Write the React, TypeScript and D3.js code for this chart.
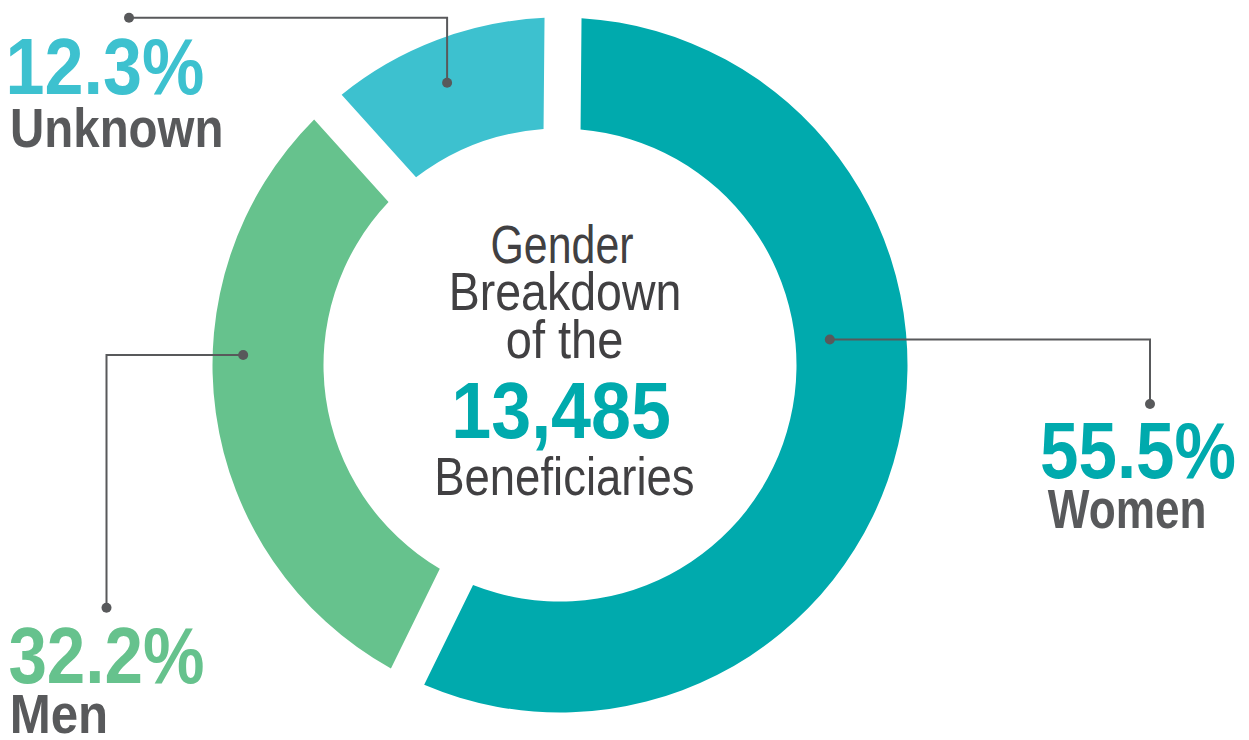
import React, { useRef, useEffect } from 'react'
import * as d3 from 'd3'

const categories = ['Women', 'Men', 'Unknown']
const percents = [55.5, 32.2, 12.3]
// share of the ring each slice takes in the artwork (drawn slightly off scale)
const arcShares = [57.1, 31.1, 11.8]
const colors = ['#00aaad', '#66c28d', '#3dc1cf']
const centerLines = ['Gender', 'Breakdown', 'of the']
const totalLabel = '13,485'
const totalCaption = 'Beneficiaries'

// callout layout: anchor on the ring (deg, radius), leader end, text spots [x, baseline, length]
const callouts = [
    { angle: 84.6, r: 271, end: [1150, 404], bend: 'h', pct: [1040, 478.3, 196], name: [1047.8, 527.7, 158.7] },
    { angle: 271.8, r: 317, end: [106.5, 607.7], bend: 'h', pct: [8.4, 683.3, 196], name: [9.7, 732.7, 98.5] },
    { angle: 338.2, r: 304, end: [129, 17.7], bend: 'v', pct: [5.6, 94.3, 198.7], name: [10, 146.7, 213.5] },
]
// center block: [x, baseline, length]
const centerLayout = [[490.5, 263.3, 143], [448.8, 310, 232.5], [505.8, 358.3, 117.6]]
const totalLayout = [451.3, 438.3, 219.6]
const captionLayout = [434.2, 495, 260.4]

const W = 1249
const H = 740
// Liberation Sans squeezed by textLength stands in for a condensed face
const FONT = "'Liberation Sans', Arial, sans-serif"
const DARK = '#58595b'
const CENTER_INK = '#414042'

export default function App() {
    const svgRef = useRef<SVGSVGElement | null>(null)

    useEffect(() => {
        if (!svgRef.current) return
        const svg = d3.select(svgRef.current)
        svg.selectAll('*').remove()

        const cx = 560
        const cy = 365
        const outer = 347.5
        const inner = 236.5
        const offset = (0.5 * Math.PI) / 180

        const pie = d3.pie<number>().sort(null)
            .startAngle(offset).endAngle(offset + 2 * Math.PI)
        const arc = d3.arc<d3.PieArcDatum<number>>()
            .innerRadius(inner).outerRadius(outer)
            .padRadius(100).padAngle(2 * Math.asin(0.185))

        const g = svg.append('g').attr('transform', `translate(${cx},${cy})`)

        g.selectAll('path.slice')
            .data(pie(arcShares))
            .join('path')
            .attr('class', 'slice')
            .attr('d', arc)
            .attr('fill', (d, i) => colors[i])

        const label = (spot: number[], txt: string, fill: string, size: number, weight: number) =>
            svg.append('text')
                .attr('x', spot[0]).attr('y', spot[1])
                .attr('textLength', spot[2])
                .attr('lengthAdjust', 'spacingAndGlyphs')
                .attr('fill', fill)
                .style('font-family', FONT)
                .style('font-weight', weight)
                .style('font-size', size + 'px')
                .text(txt)

        // leader lines + dots
        const polar = (deg: number, r: number) => {
            const a = (deg * Math.PI) / 180
            return [cx + r * Math.sin(a), cy - r * Math.cos(a)]
        }
        callouts.forEach((c, i) => {
            const [ax, ay] = polar(c.angle, c.r)
            const [ex, ey] = c.end
            const elbow = c.bend === 'h' ? [ex, ay] : [ax, ey]
            svg.append('path')
                .attr('d', d3.line()([[ax, ay], elbow as [number, number], [ex, ey]]))
                .attr('fill', 'none')
                .attr('stroke', DARK)
                .attr('stroke-width', 2)
            svg.append('circle').attr('cx', ax).attr('cy', ay).attr('r', 5).attr('fill', DARK)
            svg.append('circle').attr('cx', ex).attr('cy', ey).attr('r', 5).attr('fill', DARK)

            label(c.pct, d3.format('.1f')(percents[i]) + '%', colors[i], 80, 700)
            label(c.name, categories[i], DARK, 55, 700)
        })

        // center block
        centerLines.forEach((t, i) => label(centerLayout[i], t, CENTER_INK, 53, 400))
        label(totalLayout, totalLabel, colors[0], 79, 700)
        label(captionLayout, totalCaption, CENTER_INK, 53, 400)
    }, [])

    return (
        <svg
            ref={svgRef}
            width={W}
            height={H}
            style={{ position: 'absolute', left: 0, top: 0, background: '#fff' }}
        />
    )
}
